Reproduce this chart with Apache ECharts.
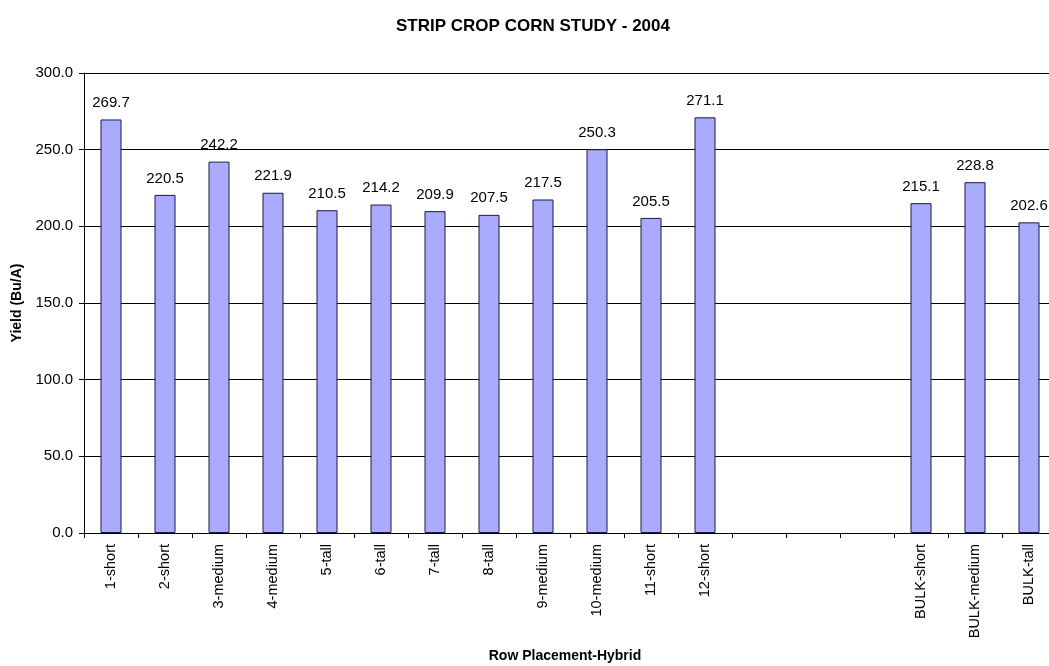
<!DOCTYPE html>
<html>
<head>
<meta charset="utf-8">
<script src="https://cdn.jsdelivr.net/npm/echarts@6/dist/echarts.min.js"></script>
<style>
  html, body { margin: 0; padding: 0; background: #fff; }
  #main { width: 1049px; height: 666px; }
</style>
</head>
<body>
<div id="main"></div>
<script>
// categories (three empty slots between the plots and the bulk samples)
var categories = ['1-short', '2-short', '3-medium', '4-medium', '5-tall', '6-tall', '7-tall', '8-tall',
    '9-medium', '10-medium', '11-short', '12-short', '', ' ', '  ', 'BULK-short', 'BULK-medium', 'BULK-tall'];
var yieldValues = [269.7, 220.5, 242.2, 221.9, 210.5, 214.2, 209.9, 207.5,
    217.5, 250.3, 205.5, 271.1, null, null, null, 215.1, 228.8, 202.6];

var chart = echarts.init(document.getElementById('main'));
var font = 'Arial, "Liberation Sans", sans-serif';

chart.setOption({
    animation: false,
    title: [{
        text: 'STRIP CROP CORN STUDY - 2004',
        left: 528, top: 13, textAlign: 'center',
        textStyle: { fontFamily: font, fontSize: 17, fontWeight: 'bold', color: '#000' }
    }, {
        text: 'Row Placement-Hybrid',
        left: 560, top: 644, textAlign: 'center',
        textStyle: { fontFamily: font, fontSize: 14, fontWeight: 'bold', color: '#000' }
    }],
    // the plot runs a little past the right edge of the picture, as in the original
    grid: { left: 84, top: 73, width: 972, bottom: 133, containLabel: false, outerBoundsMode: 'none' },
    xAxis: {
        type: 'category',
        data: categories,
        boundaryGap: true,
        axisLine: { lineStyle: { color: '#000', width: 1 } },
        axisTick: { show: true, alignWithLabel: false, length: 5, lineStyle: { color: '#000' } },
        axisLabel: {
            interval: 0, rotate: 90, margin: 11,
            fontFamily: font, fontSize: 14.5, color: '#000'
        }
    },
    yAxis: {
        type: 'value',
        min: 0, max: 300, interval: 50,
        name: 'Yield (Bu/A)',
        nameLocation: 'middle',
        nameGap: 60,
        nameTextStyle: { fontFamily: font, fontSize: 14, fontWeight: 'bold', color: '#000' },
        axisLine: { show: true, lineStyle: { color: '#000', width: 1 } },
        axisTick: { show: true, inside: false, length: 5, lineStyle: { color: '#000' } },
        axisLabel: {
            margin: 11, fontFamily: font, fontSize: 15, color: '#000',
            formatter: function (v) { return v.toFixed(1); }
        },
        splitLine: { show: true, lineStyle: { color: '#000', width: 1 } }
    },
    series: [{
        type: 'bar',
        data: yieldValues,
        barWidth: 21,
        itemStyle: { color: '#AAAAFF', borderColor: '#1a1a40', borderWidth: 1 },
        label: {
            show: true, position: 'top', distance: 9,
            fontFamily: font, fontSize: 15, color: '#000',
            formatter: function (p) { return p.value == null ? '' : p.value.toFixed(1); }
        }
    }]
});
</script>
</body>
</html>
